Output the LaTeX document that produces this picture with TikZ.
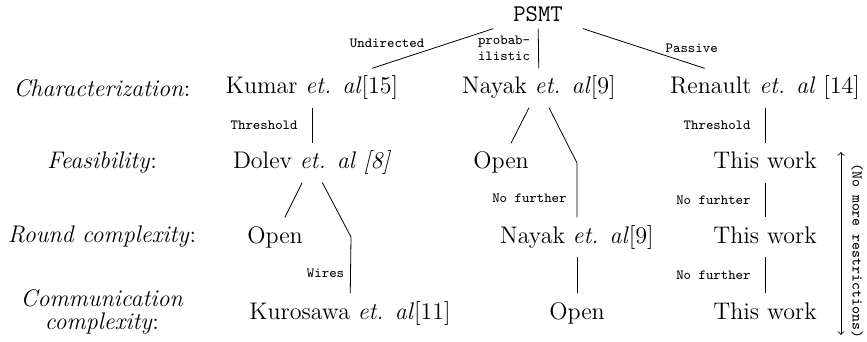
\documentclass[tikz,border=0pt]{standalone}
\usepackage{amsmath}
\usepackage{tikz}
\usetikzlibrary{arrows, positioning}

\begin{document}
\begin{tikzpicture}[x=0.5pt, y=-0.5pt,
		result/.style={font=\large, text height=8pt, text depth=2pt, outer sep=1.5pt},
		level/.style={font=\large, align=center},
		elabel/.style={font=\ttfamily\scriptsize, inner sep=1pt}]
		\useasboundingbox (0,0) rectangle (867,342);

		\node[font=\large, inner xsep=11pt, inner ysep=3.3pt] (psmt) at (538,14) {\texttt{PSMT}};

		\node[level] (charlev) at (102,88) {\textit{Characterization}:};
		\node[level] (feaslev) at (102,163) {\textit{Feasibility}:};
		\node[level] (roundlev) at (102,237) {\textit{Round complexity}:};
		\node[level] (commlev) at (102,312) {\textit{Communication}\\[-2.5pt]\textit{complexity}:};

		\node[result] (kumar) at (312,88) {Kumar \textit{et. al}[15]};
		\node[result] (nayak) at (539,88) {Nayak \textit{et. al}[9]};
		\node[result] (renault) at (765,88) {Renault \textit{et. al} [14]};

		\node[result] (dolev) at (312,163) {Dolev \textit{et. al [8]}};
		\node[result] (openA) at (275,237) {Open};
		\coordinate (dolevbend) at (351,237);
		\node[result] (kurosawa) at (350,313) {Kurosawa \textit{et. al}[11]};

		\node[result] (openB) at (501,163) {Open};
		\coordinate (nayakbend) at (577,163);
		\node[result] (nayakB) at (577,237) {Nayak \textit{et. al}[9]};
		\node[result] (openC) at (577,313) {Open};

		\node[result] (workA) at (765,163) {This work};
		\node[result] (workB) at (765,237) {This work};
		\node[result] (workC) at (765,313) {This work};

		\coordinate (restop) at (841,152);
		\coordinate (resbot) at (841,335);

		\draw (psmt) -- node[elabel, pos=0.55, anchor=south east] {Undirected} (kumar);
		\draw (psmt) -- node[elabel, left=3pt, align=left] {probab-\\ilistic} (nayak);
		\draw (psmt) -- node[elabel, pos=0.66, anchor=south west] {Passive} (renault);

		\draw (kumar) -- node[elabel, left=6pt] {Threshold} (dolev);
		\draw (dolev) -- (openA);
		\draw (dolev) -- (dolevbend) -- node[elabel, left=2pt, pos=0.65] {Wires} (kurosawa);

		\draw (nayak) -- (openB);
		\draw (nayak) -- (nayakbend) -- node[elabel, left=4pt, pos=0.65] {No further} (nayakB);
		\draw (nayakB) -- (openC);

		\draw (renault) -- node[elabel, left=6pt] {Threshold} (workA);
		\draw (workA) -- node[elabel, left=6pt] {No furhter} (workB);
		\draw (workB) -- node[elabel, left=6pt] {No further} (workC);

		\draw[<->] (restop) -- node[font=\ttfamily\fontsize{7.5}{9}\selectfont, pos=0.54, rotate=-90, anchor=south, inner sep=5pt] {(No more restrictions)} (resbot);

	\end{tikzpicture}
\end{document}
